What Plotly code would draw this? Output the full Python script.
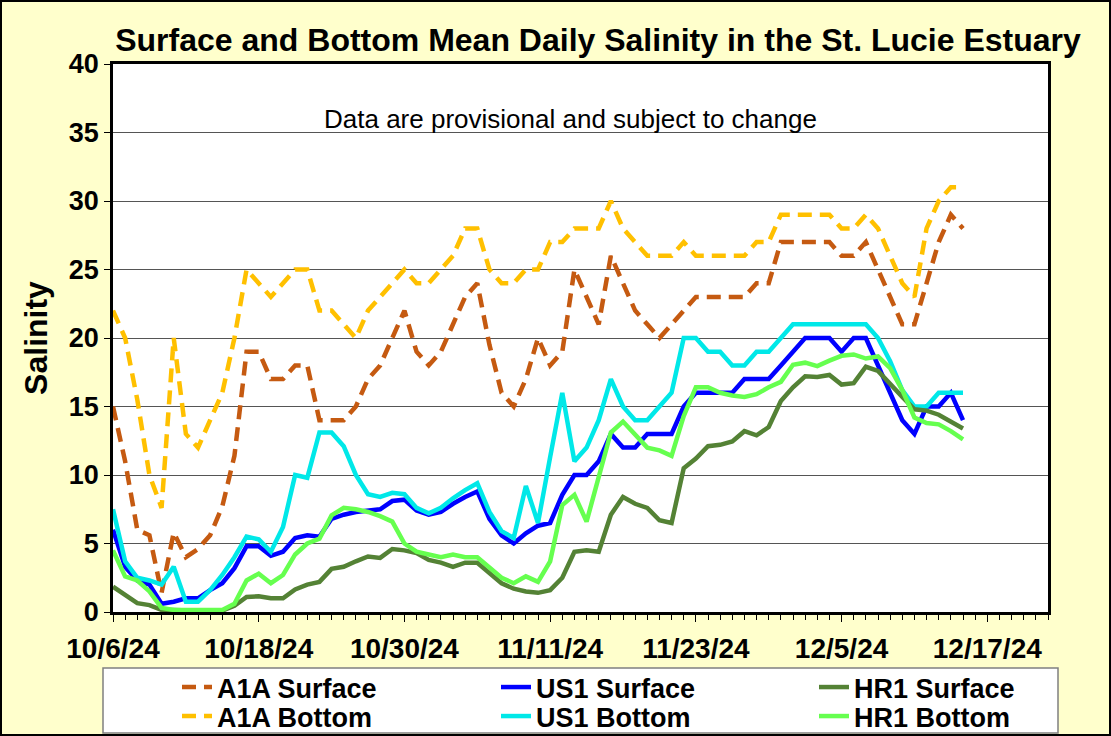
import pandas as pd
import plotly.graph_objects as go

# daily dates, 10/6/24 .. 12/15/24
dates = pd.date_range("2024-10-06", "2024-12-15", freq="D")

a1a_surface = [15, 11, 6, 5.6, 1.4, 5.8, 4, 4.6, 5.6, 7.7, 11.4, 19, 19, 17, 17, 18, 18, 14, 14, 14,
               15, 17, 18, 20, 22, 19, 18, 19, 21, 23, 24, 19.5, 16, 15, 17, 20, 18, 19, 25, 23,
               21, 26, 24, 22, 21, 20, 21, 22, 23, 23, 23, 23, 23, 24, 24, 27, 27, 27, 27, 27,
               26, 26, 27, 25, 23, 21, 21, 24, 27, 29, 28]
a1a_bottom = [22, 20, 15.5, 10, 7.6, 20, 13, 12, 14, 16, 20, 25, 24, 23, 24, 25, 25, 22, 22, 21,
              20, 22, 23, 24, 25, 24, 24, 25, 26, 28, 28, 25, 24, 24, 25, 25, 27, 27, 28, 28,
              28, 30, 28, 27, 26, 26, 26, 27, 26, 26, 26, 26, 26, 27, 27, 29, 29, 29, 29, 29,
              28, 28, 29, 28, 26, 24, 23, 28, 30, 31, 31]
us1_surface = [6.0, 3.3, 2.3, 2.0, 0.6, 0.75, 1.0, 1.0, 1.6, 2.1, 3.2, 4.8, 4.8, 4.1, 4.4, 5.4, 5.6, 5.5, 6.8, 7.1,
               7.3, 7.4, 7.5, 8.1, 8.2, 7.4, 7.1, 7.3, 7.9, 8.4, 8.8, 6.8, 5.6, 5.0, 5.75, 6.3, 6.5, 8.55, 10, 10,
               11, 13, 12, 12, 13, 13, 13, 15, 16, 16, 16, 16, 17, 17, 17, 18, 19, 20, 20, 20,
               19, 20, 20, 18, 16, 14, 13, 15, 15, 16, 14]
us1_bottom = [7.5, 3.7, 2.5, 2.3, 2.0, 3.3, 0.75, 0.75, 1.6, 2.7, 4.0, 5.5, 5.3, 4.4, 6.2, 10, 9.8, 13.1, 13.1, 12.1,
              10, 8.6, 8.4, 8.7, 8.6, 7.6, 7.2, 7.6, 8.3, 8.9, 9.4, 7.3, 5.9, 5.4, 9.2, 6.5, 11.3, 16, 11, 12,
              14, 17, 15, 14, 14, 15, 16, 20, 20, 19, 19, 18, 18, 19, 19, 20, 21, 21, 21, 21,
              21, 21, 21, 20, 18.3, 16.2, 15, 15, 16, 16, 16]
hr1_surface = [1.85, 1.25, 0.65, 0.5, 0.15, 0.15, 0.1, 0.1, 0.1, 0.1, 0.45, 1.1, 1.15, 1.0, 1.0, 1.65, 2.0, 2.2, 3.15, 3.3,
               3.7, 4.05, 3.95, 4.6, 4.5, 4.3, 3.8, 3.6, 3.3, 3.6, 3.6, 2.9, 2.1, 1.7, 1.5, 1.4, 1.6, 2.5, 4.4, 4.5,
               4.4, 7.1, 8.4, 7.9, 7.6, 6.7, 6.5, 10.5, 11.2, 12.1, 12.2, 12.45, 13.2, 12.9, 13.5, 15.4, 16.4, 17.2, 17.15, 17.3,
               16.6, 16.7, 17.9, 17.6, 16.6, 15.7, 14.8, 14.7, 14.4, 13.9, 13.4]
hr1_bottom = [4.5, 2.6, 2.3, 1.5, 0.3, 0.15, 0.15, 0.15, 0.15, 0.15, 0.6, 2.3, 2.8, 2.1, 2.7, 4.2, 5.0, 5.35, 7.05, 7.6,
              7.5, 7.3, 7.0, 6.6, 5.0, 4.4, 4.2, 4.0, 4.2, 4.0, 4.0, 3.3, 2.5, 2.1, 2.6, 2.2, 3.7, 7.8, 8.55, 6.6,
              10, 13.1, 13.9, 12.9, 12.0, 11.8, 11.4, 14.3, 16.4, 16.4, 16.0, 15.8, 15.7, 15.9, 16.4, 16.8, 18.05, 18.2, 17.95, 18.35,
              18.7, 18.8, 18.5, 18.65, 17.8, 16.2, 14.2, 13.8, 13.7, 13.2, 12.6]

tick_dates = ["2024-10-06", "2024-10-18", "2024-10-30", "2024-11-11",
              "2024-11-23", "2024-12-05", "2024-12-17"]
tick_labels = ["10/6/24", "10/18/24", "10/30/24", "11/11/24", "11/23/24", "12/5/24", "12/17/24"]

FONT = "Arial, Liberation Sans, sans-serif"
DASH = "14px,8px"

# (name, values, colour, dash, legend id, legend column left px, legend row top px)
series = [
    ("A1A Surface", a1a_surface, "#C55A11", DASH, "legend", 177, 663),
    ("A1A Bottom", a1a_bottom, "#FFC000", DASH, "legend2", 177, 692),
    ("US1 Surface", us1_surface, "#0000FF", "solid", "legend3", 496, 663),
    ("US1 Bottom", us1_bottom, "#00E8E8", "solid", "legend4", 496, 692),
    ("HR1 Surface", hr1_surface, "#548235", "solid", "legend5", 814, 663),
    ("HR1 Bottom", hr1_bottom, "#66FF4F", "solid", "legend6", 814, 692),
]

W, H = 1111, 736
L, R, T, B = 113, 63, 64, 124
pw, ph = W - L - R, H - T - B


def px_x(px):
    return (px - L) / pw


def px_y(py):
    return (T + ph - py) / ph


fig = go.Figure()
legends = {}
for name, vals, color, dash, leg, lx, ly in series:
    fig.add_trace(go.Scatter(x=dates, y=vals, name=name, mode="lines",
                             line=dict(color=color, width=4.5, dash=dash),
                             legend=leg, showlegend=True))
    legends[leg] = dict(orientation="v", x=px_x(lx), xanchor="left",
                        y=px_y(ly), yanchor="top", bgcolor="rgba(0,0,0,0)", borderwidth=0,
                        font=dict(size=27, family=FONT, weight="bold"))

fig.update_layout(
    width=W, height=H,
    showlegend=True,
    margin=dict(l=L, r=R, t=T, b=B, autoexpand=False),
    paper_bgcolor="#FFFFCC",
    plot_bgcolor="white",
    font=dict(family=FONT, color="black"),
    title=dict(text="Surface and Bottom Mean Daily Salinity in the St. Lucie Estuary",
               x=598 / W, xanchor="center", y=1 - 40 / H, yanchor="middle",
               font=dict(size=32, weight="bold")),
    xaxis=dict(type="date", range=["2024-10-06", "2024-12-22"],
               tickvals=tick_dates, ticktext=tick_labels,
               tickfont=dict(size=28, family=FONT, weight="bold"), ticks="outside", ticklen=7,
               tickcolor="black", ticklabelstandoff=3,
               minor=dict(dtick=86400000, tick0="2024-10-06", ticks="outside",
                          ticklen=5, tickcolor="black", showgrid=False),
               showgrid=False, showline=True, linecolor="black", linewidth=2.5,
               mirror=True, zeroline=False),
    yaxis=dict(range=[0, 40], dtick=5, tickfont=dict(size=27, family=FONT, weight="bold"),
               ticks="outside", ticklen=6, tickcolor="black",
               showgrid=True, gridcolor="#555555", gridwidth=1,
               showline=True, linecolor="black", linewidth=2.5, mirror=True,
               zeroline=False,
               title=dict(text="Salinity", font=dict(size=32, weight="bold"), standoff=12)),
    annotations=[dict(text="Data are provisional and subject to change",
                      xref="paper", yref="paper", x=px_x(570), y=px_y(102),
                      showarrow=False, font=dict(size=26, family=FONT))],
    shapes=[
        # legend box
        dict(type="rect", xref="paper", yref="paper",
             x0=px_x(103), x1=px_x(1058), y0=px_y(733), y1=px_y(668),
             fillcolor="white", line=dict(color="#808080", width=1.5), layer="below"),
        # outer chart border
        dict(type="rect", xref="paper", yref="paper",
             x0=px_x(1), x1=px_x(W - 1), y0=px_y(H - 1), y1=px_y(1),
             line=dict(color="black", width=2), layer="below"),
    ],
)
fig.update_layout(**legends)

fig.write_html("out.html", config={"displayModeBar": False},
               post_script="document.body.style.margin='0px';")
